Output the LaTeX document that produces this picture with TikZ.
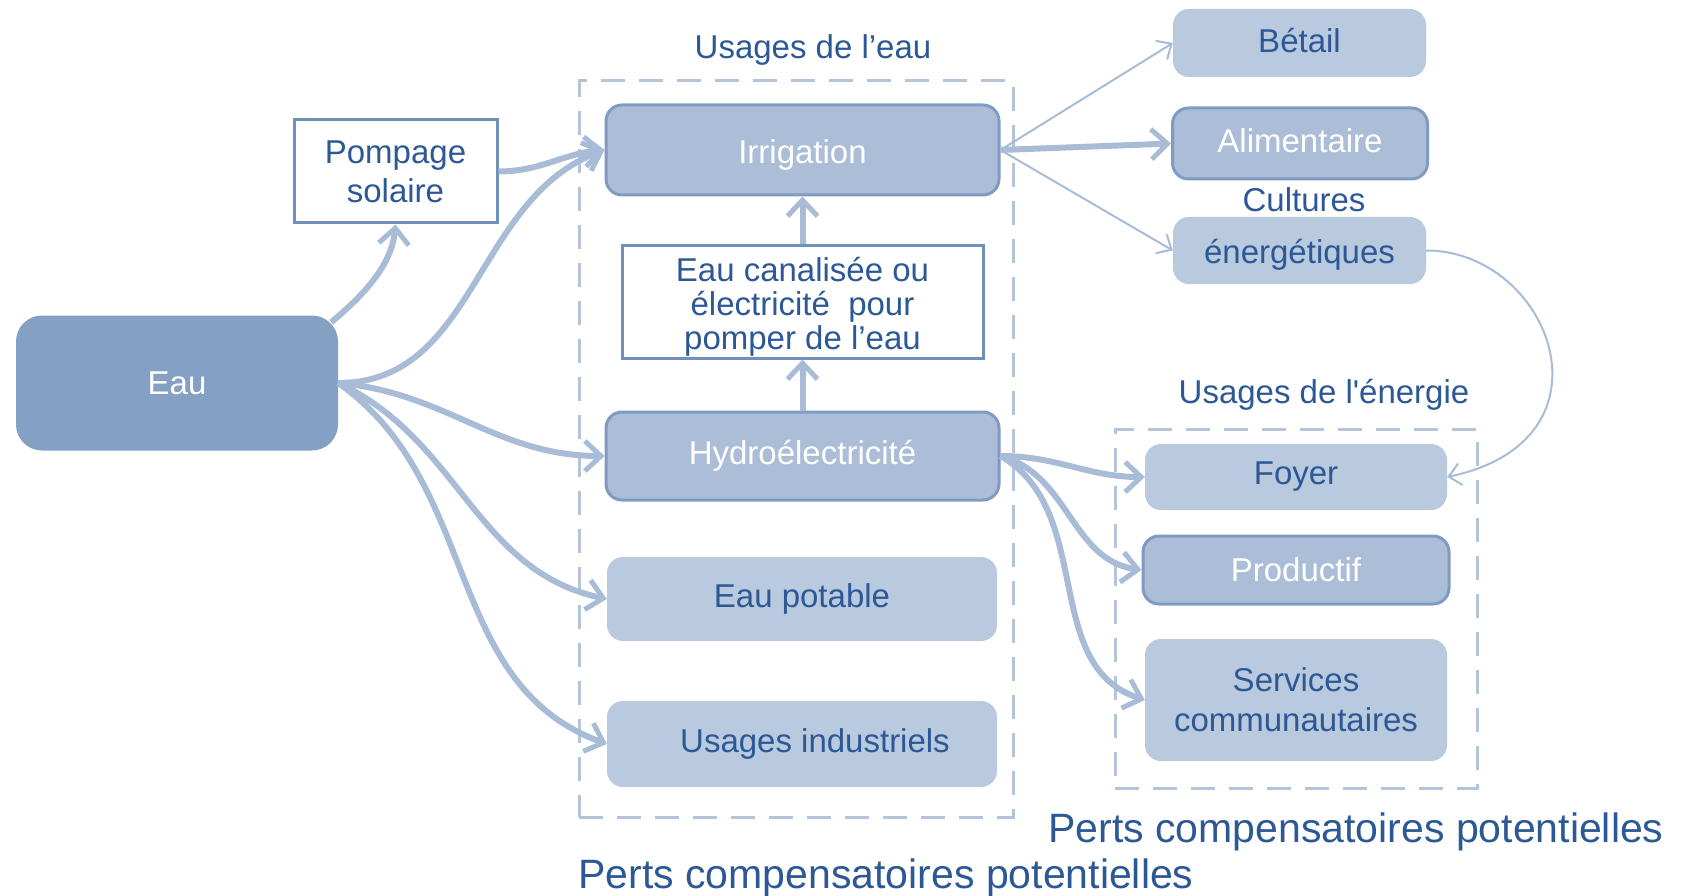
\documentclass[tikz,border=0pt]{standalone}
\usepackage{fontspec}
\setmainfont{Liberation Sans}
\usetikzlibrary{arrows.meta}

\definecolor{txtblue}{HTML}{2C5896}
\definecolor{eaufill}{HTML}{84A0C3}
\definecolor{midfill}{HTML}{ABBDD7}
\definecolor{midline}{HTML}{7F9BC1}
\definecolor{lightfill}{HTML}{B9C9DE}
\definecolor{wireblue}{HTML}{A8BCD7}
\definecolor{dashblue}{HTML}{B3C4DB}
\definecolor{frameblue}{HTML}{6F90BB}

\begin{document}
\begin{tikzpicture}[x=1pt,y=1pt,
  every node/.style={font=\fontsize{33}{34}\selectfont, align=center, inner sep=0pt},
  source/.style={rounded corners=26pt, fill=eaufill, text=white},
  keyuse/.style={rounded corners=16pt, fill=midfill, draw=midline, line width=3pt, text=white},
  lightuse/.style={rounded corners=16pt, fill=lightfill, text=txtblue},
  whitebox/.style={fill=white, draw=frameblue, line width=3pt, text=txtblue},
  heading/.style={text=txtblue},
  bigheading/.style={text=txtblue, font=\fontsize{41}{45}\selectfont, anchor=base west},
  zone/.style={draw=dashblue, line width=3pt, dash pattern=on 24pt off 14pt},
  flow/.style={draw=wireblue, line width=6pt,
    -{Straight Barb[length=16pt,width=30pt,line width=5pt]}},
  thinflow/.style={draw=wireblue, line width=2pt,
    -{Straight Barb[length=12pt,width=22pt,line width=2pt]}},
]
\useasboundingbox (0,0) rectangle (1681,-896);
\clip (0,0) rectangle (1681,-896);

% dashed groups
\node[zone, minimum width=434pt, minimum height=736pt] (waterzone) at (796,-449) {};
\node[zone, minimum width=362pt, minimum height=359pt] (energyzone) at (1296,-608.5) {};

% headings
\node[heading] (tEau) at (813,-50) {Usages de l’eau};
\node[heading] (tEnergie) at (1324,-395) {Usages de l\textquotesingle énergie};
\node[heading] (cultures) at (1304,-200) {Cultures};
\node[bigheading] (perts1) at (1048,-842) {Perts compensatoires potentielles};
\node[bigheading] (perts2) at (578,-888) {Perts compensatoires potentielles};

% source
\node[source, minimum width=322pt, minimum height=135pt] (eau) at (177,-383) {Eau};
\node[whitebox, minimum width=203pt, minimum height=103pt, font=\fontsize{33}{39}\selectfont]
  (pompage) at (395.5,-171.5) {Pompage\\solaire};

% water uses
\node[keyuse, minimum width=393pt, minimum height=90pt, text height=34pt, text depth=7pt]
  (irrigation) at (802.5,-150) {Irrigation};
\node[whitebox, minimum width=361pt, minimum height=113pt] (canal) at (802.5,-301.5)
  {\rule{0pt}{34pt}Eau canalisée ou\\électricité~ pour\\pomper de l’eau};
\node[keyuse, minimum width=393pt, minimum height=88pt] (hydro) at (802.5,-456) {Hydroélectricité};
\node[lightuse, minimum width=390pt, minimum height=84pt] (potable) at (802,-599) {Eau potable};
\node[lightuse, minimum width=390pt, minimum height=86pt] (indus) at (802,-744)
  {\hspace*{26pt}Usages industriels};

% crop uses
\node[lightuse, minimum width=253pt, minimum height=68pt, text height=20pt, text depth=0pt]
  (betail) at (1299.5,-43) {Bétail};
\node[keyuse, minimum width=255pt, minimum height=71pt, text height=18pt, text depth=0pt]
  (alim) at (1300,-143.5) {Alimentaire};
\node[lightuse, minimum width=253pt, minimum height=67pt, text height=33pt, text depth=7pt]
  (energ) at (1299.5,-250.5) {énergétiques};

% energy uses
\node[lightuse, minimum width=302pt, minimum height=66pt] (foyer) at (1296,-477) {Foyer};
\node[keyuse, minimum width=306pt, minimum height=68pt] (productif) at (1296,-570) {Productif};
\node[lightuse, minimum width=302pt, minimum height=122pt, font=\fontsize{33}{40}\selectfont]
  (services) at (1296,-700) {Services\\communautaires};

% flows from water
\draw[flow] ([xshift=-7pt,yshift=-7pt]eau.north east) to[out=40,in=-95,looseness=0.9] (pompage.south);
\draw[flow] (pompage.east) to[out=0,in=185] (irrigation.west);
\draw[flow] (eau.east) to[out=0,in=200] (irrigation.west);
\draw[flow] (eau.east) to[out=-5,in=180] (hydro.west);
\draw[flow] (eau.east) to[out=-25,in=168] (potable.west);
\draw[flow] (eau.east) to[out=-35,in=160] (indus.west);

% vertical links
\draw[flow] (canal.north) -- (irrigation.south);
\draw[flow] (hydro.north) -- (canal.south);

% irrigation outputs
\draw[thinflow] (irrigation.east) -- (betail.west);
\draw[flow] (irrigation.east) -- (alim.west);
\draw[thinflow] (irrigation.east) -- (energ.west);
\draw[thinflow] (energ.east) .. controls +(124,0) and +(176,37) .. (foyer.east);

% hydro outputs
\draw[flow] (hydro.east) to[out=0,in=180] (foyer.west);
\draw[flow] (hydro.east) to[out=-15,in=172] (productif.west);
\draw[flow] (hydro.east) to[out=-30,in=162] (services.west);
\end{tikzpicture}
\end{document}
